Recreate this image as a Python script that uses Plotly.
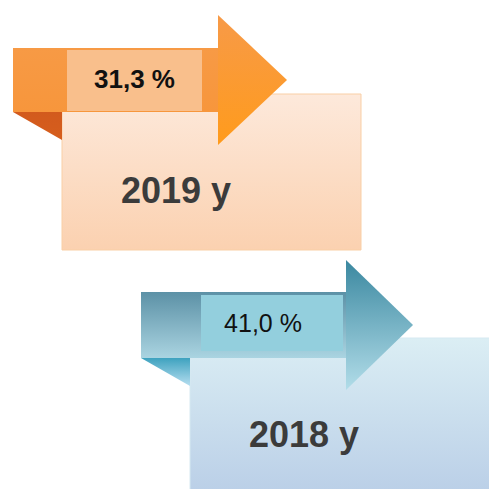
import plotly.graph_objects as go

# ---- data ----
years = ["2019 y", "2018 y"]
shares = ["31,3 %", "41,0 %"]

# ---- layout geometry per group (pixel canvas 489x489) ----
origins = [(13, 48), (141, 292)]          # top-left of arrow body
body_h = [64, 66]
body_w = 205
head_len = [69, 67]
head_over = [33, 32]
label_box = [(54, 189, 2, 63), (60, 202, 3, 59)]   # x0,x1,y0,y1 relative
card_off = (49, 46)
card_size = [(299, 156), (320, 170)]

styles = [
    dict(card=("#fde9db", "#fbd1b0"), card_line="#f9cfa6",
         body=("#f79a45", "#f7963c"), head=("#f79a48", "#ff9b1c"),
         label="#f9bf8c", fold=("#d25a1d", "#d65e1d"),
         pct_weight="bold", pct_size=26),
    dict(card=("#dbeef4", "#b7cce6"), card_line="#d6e9f1",
         body=("#5c91a6", "#aad4e1"), head=("#3b88a0", "#b2dde9"),
         label="#93cfdd", fold=("#3ea2bf", "#b6def0"),
         pct_weight="normal", pct_size=25),
]


def poly(xs, ys, c_top, c_bot, line_color=None):
    return go.Scatter(
        x=xs + [xs[0]], y=ys + [ys[0]], mode="lines", fill="toself",
        fillgradient=dict(type="vertical", colorscale=[[0, c_bot], [1, c_top]]),
        line=dict(width=1 if line_color else 0, color=line_color or "rgba(0,0,0,0)"),
        hoverinfo="skip", showlegend=False)


fig = go.Figure()
for i, (ox, oy) in enumerate(origins):
    st = styles[i]
    bh = body_h[i]
    # card
    cx0, cy0 = ox + card_off[0], oy + card_off[1]
    cx1, cy1 = cx0 + card_size[i][0], cy0 + card_size[i][1]
    fig.add_trace(poly([cx0, cx1, cx1, cx0], [cy0, cy0, cy1, cy1],
                       st["card"][0], st["card"][1], st["card_line"]))
    # fold triangle
    fig.add_trace(poly([ox, cx0, cx0], [oy + bh, oy + bh, oy + bh + 28],
                       st["fold"][0], st["fold"][1]))
    # arrow body
    bx1 = ox + body_w
    fig.add_trace(poly([ox, bx1, bx1, ox], [oy, oy, oy + bh, oy + bh],
                       st["body"][0], st["body"][1]))
    # arrow head
    fig.add_trace(poly([bx1, bx1 + head_len[i], bx1],
                       [oy - head_over[i], oy + bh / 2, oy + bh + head_over[i]],
                       st["head"][0], st["head"][1]))
    # label box
    lx0, lx1, ly0, ly1 = label_box[i]
    fig.add_trace(poly([ox + lx0, ox + lx1, ox + lx1, ox + lx0],
                       [oy + ly0, oy + ly0, oy + ly1, oy + ly1],
                       st["label"], st["label"]))
    # percent text
    fig.add_trace(go.Scatter(
        x=[ox + (lx0 + lx1) / 2 - (0 if i == 0 else 9)], y=[oy + bh / 2 + 1],
        mode="text", text=[shares[i]],
        textfont=dict(family="Liberation Sans, Arial", size=st["pct_size"],
                      color="#111111", weight=st["pct_weight"]),
        hoverinfo="skip", showlegend=False))
    # year text
    fig.add_trace(go.Scatter(
        x=[cx0 + 114], y=[cy0 + 100],
        mode="text", text=[years[i]],
        textfont=dict(family="Liberation Sans, Arial", size=36,
                      color="#3b3b3b", weight="bold"),
        hoverinfo="skip", showlegend=False))

fig.update_layout(
    width=489, height=489, margin=dict(l=0, r=0, t=0, b=0),
    paper_bgcolor="white", plot_bgcolor="white",
    xaxis=dict(range=[0, 489], visible=False, fixedrange=True),
    yaxis=dict(range=[489, 0], visible=False, fixedrange=True),
)
fig.write_html("out.html", config={"displayModeBar": False},
               post_script="document.body.style.margin='0';document.body.style.overflow='hidden';")
